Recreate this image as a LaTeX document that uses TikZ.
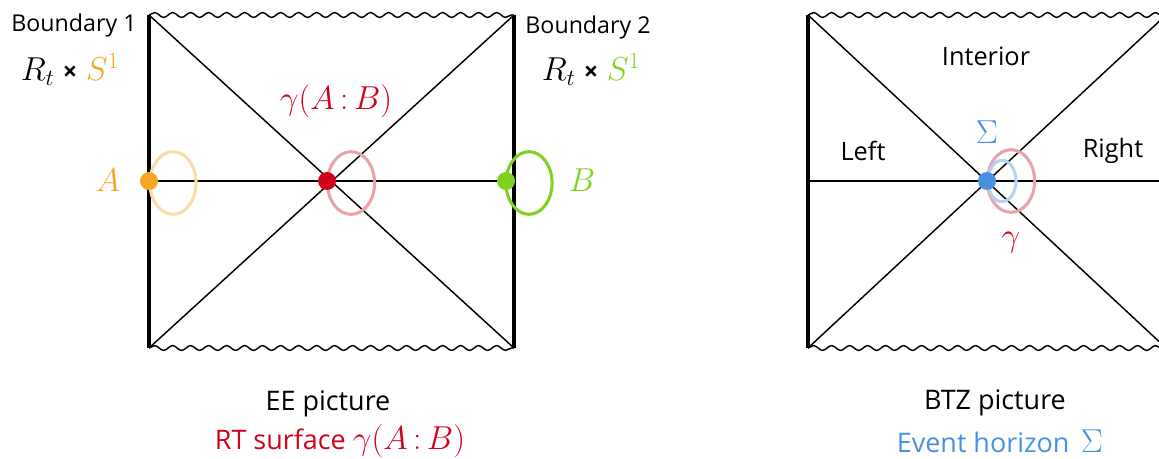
\documentclass[tikz,border=0pt]{standalone}
\usepackage{fontspec}
\setmainfont{Open Sans}
\usetikzlibrary{decorations.pathmorphing}
\definecolor{cOrange}{HTML}{F5A623}
\definecolor{cOrangeL}{HTML}{FBDBA7}
\definecolor{cRed}{HTML}{D0021B}
\definecolor{cRedL}{HTML}{E9A2AC}
\definecolor{cGreen}{HTML}{7ED321}
\definecolor{cBlue}{HTML}{4A90E2}
\definecolor{cBlueL}{HTML}{B4D2F5}
\newcommand{\mfont}{\fontsize{23}{27}\selectfont}
\newcommand{\bfont}{\fontsize{24.5}{28}\selectfont}
\tikzset{
  txt/.style={font=\fontsize{17.4}{21}\selectfont, inner sep=0pt},
  rtxt/.style={font=\fontsize{19}{23}\selectfont, inner sep=0pt},
  captxt/.style={font=\fontsize{20.2}{24}\selectfont, inner sep=0pt},
  mth/.style={font=\mfont, inner sep=0pt},
  bmth/.style={font=\bfont, inner sep=0pt},
  edge/.style={line width=2.3pt},
  thin/.style={line width=1.1pt},
  wavy/.style={line width=1.1pt, decorate, decoration={snake, segment length=13.5pt, amplitude=1.8pt}},
  dot/.style={circle, fill, inner sep=0pt, minimum size=13.5pt},
  loopc/.style={line width=2.3pt}
}
\begin{document}
\begin{tikzpicture}[x=0.75pt,y=-0.75pt]
\useasboundingbox (0,0) rectangle (1159,459);
% ---------- left diagram ----------
\coordinate (LTL) at (149,15);
\coordinate (LTR) at (514,15);
\coordinate (LBL) at (149,348);
\coordinate (LBR) at (514,348);
\coordinate (LML) at (149,181);
\coordinate (LMR) at (506,181);
\draw[wavy] (LTL) -- (LTR);
\draw[wavy] (LBL) -- (LBR);
\draw[edge] (LTL) -- (LBL);
\draw[edge] (LTR) -- (LBR);
\draw[thin] (LTL) -- (LBR);
\draw[thin] (LBL) -- (LTR);
\draw[thin] (LML) -- (LMR);
\draw[loopc, cOrangeL] (173,183) ellipse [x radius=17.3pt, y radius=23.5pt];
\draw[loopc, cRedL] (351,183) ellipse [x radius=17.7pt, y radius=23.5pt];
\draw[loopc, cGreen] (529,183) ellipse [x radius=17.3pt, y radius=23.5pt];
\node[dot, cOrange] (dA) at (LML) {};
\node[dot, cRed] (dG) at (327,181) {};
\node[dot, cGreen] (dB) at (LMR) {};
\node[txt] (b1) at (74,25) {Boundary 1};
\node[bmth] (r1) at (70,70) {$R_t$ {\fontsize{19}{21}\selectfont\bfseries ×} \textcolor{cOrange}{$S^1$}};
\node[txt] (b2) at (588,27) {Boundary 2};
\node[bmth] (r2) at (591,70) {$R_t$ {\fontsize{19}{21}\selectfont\bfseries ×} \textcolor{cGreen}{$S^1$}};
\node[mth, text=cRed] (gAB) at (336,101) {$\gamma(A\,{:}\,B)$};
\node[bmth, text=cOrange] (lA) at (108,180) {$A$};
\node[bmth, text=cGreen] (lB) at (582,180) {$B$};
\node[captxt] (ee) at (328,404) {EE picture};
\node[captxt, text=cRed] (rt) at (340,441) {RT surface {\mfont$\gamma(A\,{:}\,B)$}};
% ---------- right diagram ----------
\coordinate (RTL) at (808,15);
\coordinate (RTR) at (1166,15);
\coordinate (RBL) at (808,348);
\coordinate (RBR) at (1166,348);
\coordinate (RML) at (808,181);
\coordinate (RMR) at (1166,181);
\draw[wavy] (RTL) -- (RTR);
\draw[wavy] (RBL) -- (RBR);
\draw[edge] (RTL) -- (RBL);
\draw[edge] (RTR) -- (RBR);
\draw[thin] (RTL) -- (RBR);
\draw[thin] (RBL) -- (RTR);
\draw[thin] (RML) -- (RMR);
\draw[loopc, cRedL] (1011,181) ellipse [x radius=17.7pt, y radius=23.5pt];
\draw[loopc, cBlueL] (1002,181) ellipse [x radius=10.5pt, y radius=15.5pt];
\node[dot, cBlue] (dS) at (987,181) {};
\node[bmth, text=cBlue] (sig) at (987,132) {$\Sigma$};
\node[bmth, text=cRed] (gam) at (1011,243) {$\gamma$};
\node[rtxt] (int) at (986,56) {Interior};
\node[rtxt] (lft) at (863,151) {Left};
\node[rtxt] (rgt) at (1113,151) {Right};
\node[captxt] (btz) at (995,403) {BTZ picture};
\node[captxt, text=cBlue] (ev) at (1000,441) {Event horizon\, {\mfont$\Sigma$}};
\end{tikzpicture}
\end{document}
